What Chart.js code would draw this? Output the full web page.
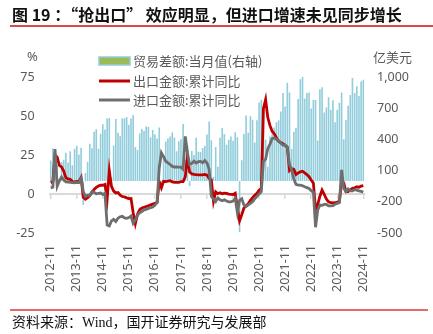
<!DOCTYPE html>
<html><head><meta charset="utf-8">
<script src="https://cdn.jsdelivr.net/npm/chart.js@4.4.0/dist/chart.umd.min.js"></script>
<style>
html,body{margin:0;padding:0;background:#fff;width:433px;height:334px;overflow:hidden;}
#wrap{position:relative;width:433px;height:334px;}
#cv{position:absolute;left:0;top:0;}
.title{position:absolute;left:12px;top:2px;font:bold 16px "Noto Sans CJK SC";color:#111;white-space:nowrap;}
.rule1{position:absolute;left:10px;top:25px;width:423px;height:1.5px;background:#DB4A4A;}
.rule2{position:absolute;left:10px;top:309px;width:418px;height:1.5px;background:#E46B6B;}
.foot{position:absolute;left:12px;top:311px;font:14px "Liberation Serif","Noto Sans CJK SC";color:#111;white-space:nowrap;}
.unitL{position:absolute;left:27px;top:47px;font:13px "Noto Sans";color:#595959;}
.unitR{position:absolute;left:373px;top:47px;font:13px "Noto Sans CJK SC";color:#595959;}
</style></head>
<body><div id="wrap">
<canvas id="cv" width="433" height="334"></canvas>
<div class="title">图 19 ：“抢出口” 效应明显，但进口增速未见同步增长</div>
<div class="rule1"></div>
<div class="unitL">%</div>
<div class="unitR">亿美元</div>
<div class="rule2"></div>
<div class="foot">资料来源：Wind，国开证券研究与发展部</div>
</div>
<script>
// categories: monthly, 2012-11 .. 2024-11
const startYear = 2012, startMonth = 11, monthCount = 145;
const months = [];
for (let i = 0; i < monthCount; i++) {
  const m = startMonth - 1 + i;
  const y = startYear + Math.floor(m / 12);
  const mm = (m % 12) + 1;
  months.push(y + '-' + (mm < 10 ? '0' + mm : mm));
}
const yearTickLabels = ['2012-11','2013-11','2014-11','2015-11','2016-11','2017-11','2018-11','2019-11','2020-11','2021-11','2022-11','2023-11','2024-11'];

const seriesNames = ['贸易差额:当月值(右轴)', '出口金额:累计同比', '进口金额:累计同比'];

// 贸易差额:当月值 (亿美元)
const tradeBalance = [
  196, 316,
  292, 152, -9, 182, 204, 271, 178, 285, 152, 311, 338, 256,
  319, -230, 77, 185, 359, 316, 473, 498, 310, 454, 545, 496,
  600, 606, 31, 341, 595, 465, 430, 602, 603, 616, 541, 601,
  633, 326, 299, 456, 500, 481, 523, 520, 420, 491, 446, 408,
  514, -92, 239, 381, 408, 428, 467, 419, 285, 382, 402, 547,
  203, 337, -50, 288, 249, 416, 281, 279, 317, 340, 447, 571,
  392, 41, 326, 138, 417, 510, 451, 348, 397, 428, 387, 468,
  420, -490, 199, 453, 629, 464, 623, 589, 370, 584, 754, 782,
  630, 400, 138, 429, 455, 515, 566, 583, 668, 845, 717, 945,
  850, 309, 474, 511, 788, 979, 1013, 794, 847, 852, 698, 780,
  780, 389, 882, 902, 658, 706, 806, 684, 777, 565, 684, 753,
  850, 402, 586, 724, 826, 990, 847, 910, 817, 957, 974
];
// 出口金额:累计同比 (%)
const exportYoY = [
  7.3, 7.9,
  25.0, 23.6, 18.4, 17.4, 14.7, 10.4, 9.7, 9.4, 8.0, 7.8, 8.0, 7.9,
  10.6, -2.1, -3.4, -2.4, -1.0, 0.9, 3.0, 4.2, 5.1, 5.7, 5.6, 6.1,
  -3.3, 15.0, 4.9, 1.9, 0.7, 0.9, -0.8, -1.6, -1.9, -2.5, -3.0, -2.9,
  -12.0, -19.0, -13.0, -10.0, -9.0, -8.5, -8.0, -7.5, -7.0, -6.5, -6.0, -5.5,
  7.9, 4.0, 8.2, 8.0, 8.2, 8.5, 7.8, 7.5, 7.5, 7.4, 7.9, 7.9,
  11.1, 24.4, 14.1, 12.9, 12.6, 12.4, 12.3, 12.2, 12.2, 12.5, 12.0, 9.9,
  9.1, -4.6, 1.4, 0.2, 0.8, 0.1, 0.6, 0.4, -0.1, -0.2, -0.3, 0.5,
  -9.0, -17.2, -13.3, -9.0, -7.7, -6.2, -4.1, -2.3, -0.8, 0.5, 2.5, 3.6,
  55.0, 60.6, 49.0, 44.0, 40.2, 38.6, 35.9, 33.7, 33.0, 32.3, 31.1, 29.9,
  15.0, 16.3, 15.8, 12.5, 13.5, 14.2, 14.6, 13.5, 12.5, 11.1, 9.0, 7.0,
  -10.0, -6.8, -1.4, 2.5, -0.3, -3.2, -5.0, -5.6, -5.7, -5.6, -5.2, -4.6,
  8.0, 7.1, 1.5, 1.5, 2.7, 3.6, 4.0, 4.6, 4.3, 5.1, 5.4
];
// 进口金额:累计同比 (%)
const importYoY = [
  3.9, 4.3,
  28.8, 5.0, 8.4, 10.9, 9.0, 7.8, 7.7, 7.5, 7.3, 7.2, 7.4, 7.3,
  10.0, 1.7, -1.6, -0.8, -0.8, 1.5, 1.1, 0.1, 0.4, 0.6, -0.2, 0.4,
  -19.9, -20.5, -17.3, -16.2, -17.6, -15.5, -14.6, -14.3, -15.3, -15.6, -15.1, -14.1,
  -18.8, -16.7, -13.5, -12.0, -11.3, -10.2, -9.9, -9.3, -8.8, -8.4, -7.2, -5.5,
  16.7, 26.4, 24.0, 21.0, 20.0, 18.9, 17.7, 17.3, 17.3, 17.2, 17.2, 15.9,
  36.9, 26.3, 18.9, 19.6, 21.0, 19.9, 20.7, 20.9, 20.0, 21.4, 19.9, 15.8,
  -1.5, -3.1, -4.8, -2.5, -3.7, -4.3, -3.7, -4.5, -5.0, -5.0, -4.5, -2.8,
  -12.0, -4.0, -3.0, -7.0, -8.0, -7.0, -6.0, -5.0, -3.0, -1.5, 0.0, 1.5,
  21.0, 22.2, 29.0, 32.0, 35.5, 36.0, 35.0, 34.2, 32.6, 31.4, 31.4, 30.1,
  19.0, 15.5, 9.6, 6.2, 5.7, 5.7, 5.3, 4.6, 4.1, 3.5, 2.2, 1.1,
  -21.3, -10.2, -7.1, -7.3, -6.7, -6.7, -7.6, -7.6, -7.5, -6.5, -6.0, -5.5,
  15.5, 3.5, 1.5, 3.2, 2.0, 2.0, 2.8, 2.5, 2.0, 1.7, 1.2
];
// axis ticks
const leftTicks = [-25, 0, 25, 50, 75];
const rightTicks = [-500, -200, 100, 400, 700, 1000];

const TXT = '#595959';
const tickFont = {family: 'Noto Sans', size: 12.5};

const legendPlugin = {
  id: 'insideLegend',
  afterDraw(chart) {
    const ctx = chart.ctx;
    const x0 = 99, w = 31, rows = [61, 81, 100];
    ctx.save();
    ctx.font = '13px "Noto Sans CJK SC"';
    ctx.textBaseline = 'middle';
    ctx.fillStyle = TXT;
    chart.data.datasets.forEach((ds, i) => {
      const y = rows[i];
      if (ds.type === 'bar') {
        ctx.fillStyle = '#9BBB59';
        ctx.fillRect(x0, y - 4, w, 8);
        ctx.strokeStyle = ds.backgroundColor;
        ctx.lineWidth = 1.5;
        ctx.strokeRect(x0, y - 4, w, 8);
      } else {
        ctx.strokeStyle = ds.borderColor;
        ctx.lineWidth = 3;
        ctx.beginPath(); ctx.moveTo(x0, y); ctx.lineTo(x0 + w, y); ctx.stroke();
      }
      ctx.fillStyle = TXT;
      ctx.fillText(ds.label, x0 + w + 3, y + 0.5);
    });
    ctx.restore();
  }
};

new Chart(document.getElementById('cv'), {
  type: 'bar',
  data: {
    labels: months,
    datasets: [
      {type: 'bar', label: seriesNames[0], data: tradeBalance, yAxisID: 'yR', xAxisID: 'x',
       backgroundColor: '#92CDDC', borderWidth: 0, barPercentage: 0.75, categoryPercentage: 1, order: 3},
      {type: 'line', label: seriesNames[1], data: exportYoY, yAxisID: 'yL', xAxisID: 'x',
       borderColor: '#C00000', borderWidth: 2.8, pointRadius: 0, tension: 0, fill: false, order: 2},
      {type: 'line', label: seriesNames[2], data: importYoY, yAxisID: 'yL', xAxisID: 'x',
       borderColor: '#6E6E6E', borderWidth: 2.8, pointRadius: 0, tension: 0, fill: false, order: 1}
    ]
  },
  options: {
    responsive: false,
    animation: false,
    layout: {padding: {top: 77, bottom: 31, left: 0, right: 0}},
    plugins: {legend: {display: false}, tooltip: {enabled: false}},
    scales: {
      x: {
        type: 'category', offset: true, position: {yL: 0},
        grid: {offset: false, drawOnChartArea: false, drawTicks: true, tickLength: 4, lineWidth: 1.5,
               color: (c) => yearTickLabels.includes(months[c.index]) ? '#D9D9D9' : 'rgba(0,0,0,0)'},
        border: {display: true, color: '#D9D9D9', width: 2},
        ticks: {display: false, autoSkip: false}
      },
      x2: {
        type: 'category', offset: true, position: 'bottom',
        grid: {display: false, drawTicks: false}, border: {display: false},
        ticks: {autoSkip: false, maxRotation: 90, minRotation: 90, padding: 12, color: TXT, font: tickFont,
                callback: (v, i) => yearTickLabels.includes(months[i]) ? months[i] : ''},
        afterFit: (s) => { s.height = 70; }
      },
      yL: {
        position: 'left', min: leftTicks[0], max: leftTicks[leftTicks.length - 1],
        afterBuildTicks: (s) => { s.ticks = leftTicks.map(v => ({value: v})); },
        ticks: {padding: 15, color: TXT, font: tickFont},
        grid: {display: false, drawTicks: false}, border: {display: false},
        afterFit: (s) => { s.width = 49.6; }
      },
      yR: {
        position: 'right', min: rightTicks[0], max: rightTicks[rightTicks.length - 1],
        afterBuildTicks: (s) => { s.ticks = rightTicks.map(v => ({value: v})); },
        ticks: {padding: 12.6, color: TXT, font: tickFont},
        grid: {display: false, drawTicks: false}, border: {display: false},
        afterFit: (s) => { s.width = 68.6; }
      }
    }
  },
  plugins: [legendPlugin]
});
</script>
</body></html>
